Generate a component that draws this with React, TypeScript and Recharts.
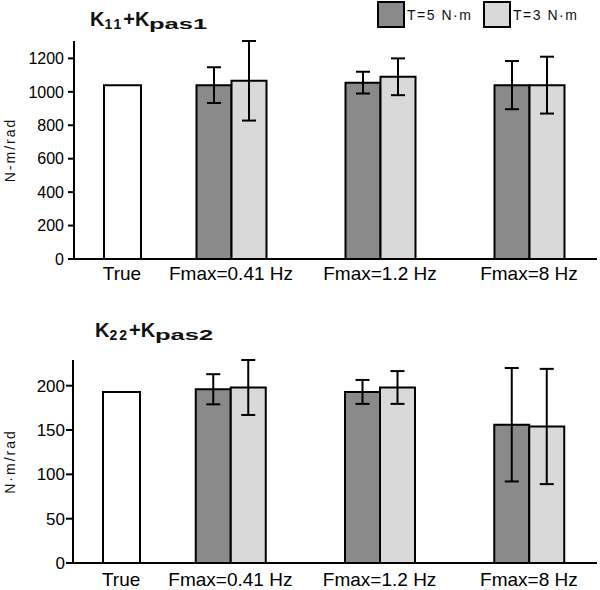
import React from 'react';
import { BarChart, Bar, XAxis, YAxis, ErrorBar } from 'recharts';

// ---- data ----
const categories = ['True', 'Fmax=0.41 Hz', 'Fmax=1.2 Hz', 'Fmax=8 Hz'];
const seriesNames = ['T=5 N·m', 'T=3 N·m'];

const k1True = [1040, null, null, null];
const k1T5 = [null, 1040, 1055, 1040];
const k1T5Err = [null, 107, 65, 144];
const k1T3 = [null, 1066, 1090, 1040];
const k1T3Err = [null, 238, 110, 170];
const k1Ticks = [0, 200, 400, 600, 800, 1000, 1200];

const k2True = [193, null, null, null];
const k2T5 = [null, 196, 193, 156];
const k2T5Err = [null, 17, 13.5, 64];
const k2T3 = [null, 198, 198, 154];
const k2T3Err = [null, 31, 18.5, 65];
const k2Ticks = [0, 50, 100, 150, 200];

const FONT = '"Liberation Sans", Arial, Helvetica, sans-serif';
const DARK = '#8a8a8a';
const LIGHT = '#d9d9d9';

function buildRows(tv: any[], a: any[], ae: any[], b: any[], be: any[]) {
  return categories.map((name, i) => ({
    name,
    trueVal: tv[i],
    t5: a[i],
    t5Err: ae[i],
    t3: b[i],
    t3Err: be[i],
  }));
}

const rows1 = buildRows(k1True, k1T5, k1T5Err, k1T3, k1T3Err);
const rows2 = buildRows(k2True, k2T5, k2T5Err, k2T3, k2T3Err);

type PanelProps = {
  rows: any[];
  top: number;
  height: number;
  margin: { top: number; right: number; bottom: number; left: number };
  yWidth: number;
  domain: [number, number];
  ticks: number[];
  yLabel: string;
  yTickFont: number;
  yTickSize: number;
  yTickMargin: number;
  xTickMargin: number;
};

const AX_H = 0.001;

function Panel(p: PanelProps) {
  return (
    <div style={{ position: 'absolute', left: 0, top: p.top, width: 600, height: p.height }}>
      <BarChart width={600} height={p.height} data={p.rows} margin={p.margin} barGap={0}>
        <XAxis
          xAxisId="a"
          dataKey="name"
          height={AX_H}
          interval={0}
          tickLine={false}
          tickSize={6}
          tickMargin={p.xTickMargin}
          axisLine={{ stroke: '#000', strokeWidth: 2 }}
          padding={{ left: 0, right: 139 }}
          tickFormatter={(v: string) => (v === 'True' ? v : '')}
          tick={{ fontSize: 19, fill: '#000', fontFamily: FONT }}
        />
        <XAxis
          xAxisId="b"
          dataKey="name"
          height={AX_H}
          interval={0}
          tickLine={false}
          tickSize={6}
          tickMargin={p.xTickMargin}
          axisLine={false}
          padding={{ left: -66.5, right: -6.5 }}
          tickFormatter={(v: string) => (v === 'True' ? '' : v)}
          tick={{ fontSize: 19, fill: '#000', fontFamily: FONT }}
        />
        <YAxis
          width={p.yWidth}
          domain={p.domain}
          ticks={p.ticks}
          interval={0}
          tickSize={p.yTickSize}
          tickMargin={p.yTickMargin}
          axisLine={{ stroke: '#000', strokeWidth: 2 }}
          tickLine={{ stroke: '#000', strokeWidth: 2 }}
          tick={{ fontSize: p.yTickFont, fill: '#000', fontFamily: FONT }}
          label={{
            value: p.yLabel,
            angle: -90,
            position: 'insideLeft',
            offset: 10,
            style: { textAnchor: 'middle', fontSize: 14, fill: '#111', fontFamily: FONT, letterSpacing: 2 },
          }}
        />
        <Bar
          xAxisId="a"
          dataKey="trueVal"
          fill="#ffffff"
          stroke="#000"
          strokeWidth={2}
          barSize={37}
          isAnimationActive={false}
        />
        <Bar
          xAxisId="b"
          dataKey="t5"
          name={seriesNames[0]}
          fill={DARK}
          stroke="#000"
          strokeWidth={2}
          barSize={35}
          isAnimationActive={false}
        >
          <ErrorBar dataKey="t5Err" width={7} strokeWidth={2} stroke="#000" isAnimationActive={false} />
        </Bar>
        <Bar
          xAxisId="b"
          dataKey="t3"
          name={seriesNames[1]}
          fill={LIGHT}
          stroke="#000"
          strokeWidth={2}
          barSize={35}
          isAnimationActive={false}
        >
          <ErrorBar dataKey="t3Err" width={7} strokeWidth={2} stroke="#000" isAnimationActive={false} />
        </Bar>
      </BarChart>
    </div>
  );
}

function Title(props: { left: number; top: number; main: string; sub1: string; sub2: string }) {
  return (
    <div
      style={{
        position: 'absolute',
        left: props.left,
        top: props.top,
        fontFamily: FONT,
        fontWeight: 'bold',
        fontSize: 20,
        lineHeight: '20px',
        whiteSpace: 'nowrap',
        color: '#111',
      }}
    >
      {props.main}
      <span style={{ fontSize: 14, letterSpacing: 2, position: 'relative', top: 3 }}>{props.sub1}</span>
      +{props.main}
      <span
        style={{
          fontSize: 15,
          position: 'relative',
          top: 3,
          display: 'inline-block',
          transform: 'scaleX(1.7)',
          transformOrigin: 'left',
        }}
      >
        {props.sub2}
      </span>
    </div>
  );
}

function LegendBox(props: { left: number; color: string; label: string }) {
  return (
    <div style={{ position: 'absolute', left: props.left, top: 1, display: 'flex', alignItems: 'center' }}>
      <div style={{ width: 24, height: 23, background: props.color, border: '2px solid #000' }} />
      <span style={{ fontFamily: FONT, fontSize: 14, letterSpacing: 1.5, color: '#111', marginLeft: 2 }}>
        {props.label}
      </span>
    </div>
  );
}

export default function App() {
  return (
    <div style={{ position: 'absolute', left: 0, top: 0, width: 600, height: 590, background: '#fff', overflow: 'hidden' }}>
      <Panel
        rows={rows1}
        top={0}
        height={290}
        margin={{ top: 41, right: 3, bottom: 31, left: 0 }}
        yWidth={74}
        domain={[0, 1200]}
        ticks={k1Ticks}
        yLabel="N-m/rad"
        yTickFont={16}
        yTickSize={6}
        yTickMargin={4}
        xTickMargin={2}
      />
      <Panel
        rows={rows2}
        top={290}
        height={300}
        margin={{ top: 70, right: 3, bottom: 27, left: 0 }}
        yWidth={73}
        domain={[0, 200]}
        ticks={k2Ticks}
        yLabel="N·m/rad"
        yTickFont={17}
        yTickSize={7}
        yTickMargin={1}
        xTickMargin={4}
      />
      <Title left={90} top={9} main="K" sub1="11" sub2="pas1" />
      <Title left={95} top={320} main="K" sub1="22" sub2="pas2" />
      <LegendBox left={377} color={DARK} label={seriesNames[0]} />
      <LegendBox left={483} color={LIGHT} label={seriesNames[1]} />
    </div>
  );
}
